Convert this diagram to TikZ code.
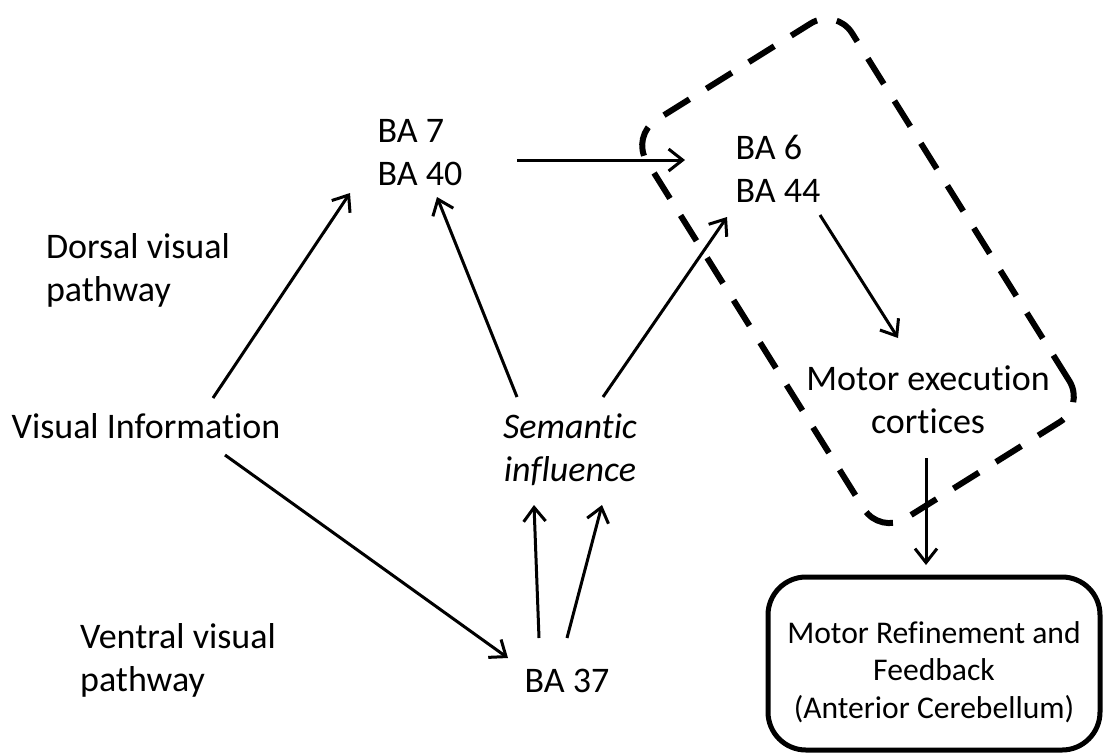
\documentclass[tikz,border=0pt]{standalone}
\usepackage{fontspec}
\setmainfont[Ligatures=NoCommon]{Carlito}
\usepackage{tikz}
\usetikzlibrary{arrows.meta}
\usetikzlibrary{calc}

\begin{document}
\begin{tikzpicture}[x=0.5pt, y=-0.5pt,
    txt/.style={font=\fontsize{18}{21.5}\selectfont, inner sep=0pt},
    arrow/.style={-{Straight Barb[length=7pt,width=11pt]}, line width=1.5pt},
    premotorbox/.style={draw, line width=3pt, dash pattern=on 15pt off 10pt, rounded corners=15pt,
        minimum width=235pt, minimum height=121pt, rotate=-58, inner sep=0pt},
    cerebframe/.style={draw, line width=2.5pt, rounded corners=19pt}]
    \useasboundingbox (0,0) rectangle (1103,752);

    \node[txt, align=left] (ba7) at (420,153) {BA 7\\BA 40};
    \node[txt, align=left] (ba6) at (778,169) {BA 6\\BA 44};
    \node[txt, align=left] (dorsal) at (138,270) {Dorsal visual\\pathway};
    \node[txt] (visinfo) at (146,426) {Visual Information};
    \node[txt, align=center, font=\fontsize{18}{21.5}\selectfont\itshape] (semantic) at (570,450) {Semantic\\influence};
    \node[txt, align=left] (ventral) at (178,660) {Ventral visual\\pathway};
    \node[txt] (ba37) at (567,681) {BA 37};
    \node[txt, align=center] (motor) at (928,400) {Motor execution\\cortices};
    \node[premotorbox] (premotor) at (858,271) {};
    \node[txt, align=center, font=\fontsize{15.8}{18.8}\selectfont] (refine) at (934,672) {Motor Refinement and\\Feedback\\(Anterior Cerebellum)};
    \draw[cerebframe] ($(refine)+(-166,-95)$) rectangle ($(refine)+(166,78)$);

    \draw[arrow] ($(visinfo)+(67,-28)$) -- ($(ba7)+(-70,40)$);
    \draw[arrow] ($(visinfo)+(79,29)$) -- ($(ba37)+(-59,-23)$);
    \draw[arrow] ($(semantic)+(-53,-53)$) -- ($(ba7)+(17,44)$);
    \draw[arrow] ($(semantic)+(33,-53)$) -- ($(ba6)+(-51,48)$);
    \draw[arrow] ($(ba7)+(97,7)$) -- ($(ba6)+(-93,-9)$);
    \draw[arrow] ($(ba37)+(-28,-43)$) -- ($(semantic)+(-36,55)$);
    \draw[arrow] ($(ba37)+(0,-43)$) -- ($(semantic)+(32,55)$);
    \draw[arrow] ($(ba6)+(42,46)$) -- ($(motor)+(-30,-62)$);
    \draw[arrow] ($(motor)+(-2,58)$) -- ($(refine)+(-8,-107)$);
\end{tikzpicture}
\end{document}
